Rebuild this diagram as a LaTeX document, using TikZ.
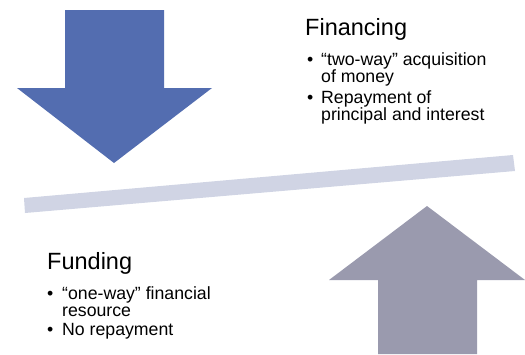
\documentclass[tikz,border=0pt]{standalone}
\usepackage{fontspec}
\setmainfont{Liberation Sans}
\definecolor{arrowblue}{HTML}{536DB0}
\definecolor{arrowgray}{HTML}{9A9AAE}
\definecolor{barcol}{HTML}{D0D4E4}
\begin{document}
\begin{tikzpicture}[x=1pt,y=-1pt,
  head/.style={anchor=base west,inner sep=0pt,font=\fontsize{23.5}{26}\selectfont},
  item/.style={anchor=base west,inner sep=0pt,font=\fontsize{17.7}{17}\selectfont},
  dot/.style={anchor=base west,inner sep=0pt,font=\fontsize{17.7}{17}\selectfont}]
\useasboundingbox (0,0) rectangle (525,354);
% arrows and bar
\fill[arrowblue] (65,10) -- (164,10) -- (164,88) -- (212,88) -- (114,163) -- (17,88) -- (65,88) -- cycle;
\fill[barcol] (24,198) -- (513,155) -- (515,171) -- (25,213) -- cycle;
\fill[arrowgray] (427,206) -- (525,280) -- (477,280) -- (477,354) -- (378,354) -- (378,280) -- (329,280) -- cycle;
% Financing
\node[head] (fin) at (305,35) {Financing};
\node[dot] (fb1) at (307,65) {•};
\node[item] (fi1a) at (321,65) {“two-way” acquisition};
\node[item] (fi1b) at (321,82) {of money};
\node[dot] (fb2) at (307,103) {•};
\node[item] (fi2a) at (321,103) {Repayment of};
\node[item] (fi2b) at (321,120) {principal and interest};
% Funding
\node[head] (fun) at (47,269) {Funding};
\node[dot] (ub1) at (47,299) {•};
\node[item] (ui1a) at (62,299) {“one-way” financial};
\node[item] (ui1b) at (62,316) {resource};
\node[dot] (ub2) at (47,335) {•};
\node[item] (ui2) at (62,335) {No repayment};
\end{tikzpicture}
\end{document}
